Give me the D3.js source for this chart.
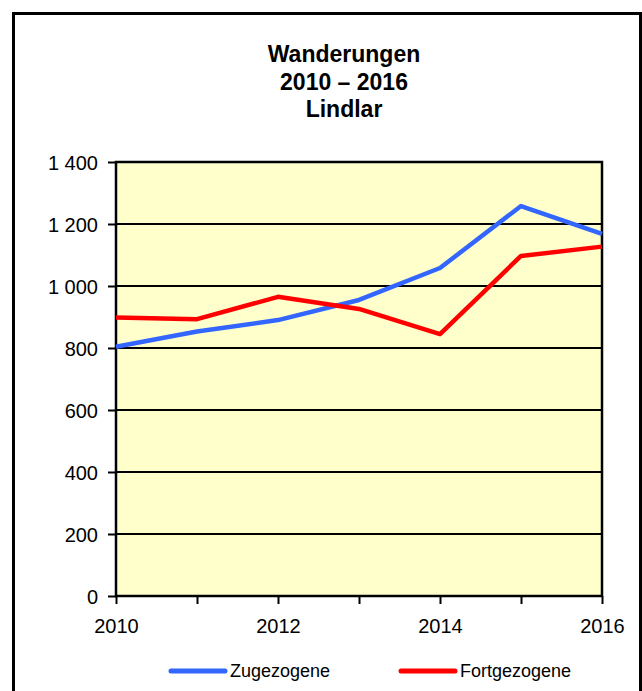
<!DOCTYPE html>
<html>
<head>
<meta charset="utf-8">
<script src="https://cdn.jsdelivr.net/npm/d3@7"></script>
<style>
  body { margin: 0; background: #fff; }
  svg { display: block; font-family: "Liberation Sans", Arial, sans-serif; }
</style>
</head>
<body>
<div id="chart"></div>
<script>
// chart data
var years = [2010, 2011, 2012, 2013, 2014, 2015, 2016];
var zugezogene = [804, 853, 890, 955, 1058, 1258, 1168];
var fortgezogene = [898, 893, 965, 926, 845, 1097, 1127];
var series_names = ['Zugezogene', 'Fortgezogene'];
var series_colors = ['#3366ff', '#ff0000'];
var title_lines = ['Wanderungen', '2010 \u2013 2016', 'Lindlar'];
var y_ticks = [0, 200, 400, 600, 800, 1000, 1200, 1400];
var x_label_years = [2010, 2012, 2014, 2016];

var width = 642, height = 691;
var plot = {left: 116, right: 602, top: 162, bottom: 596};

var svg = d3.select('#chart')
  .append('svg')
  .attr('width', width)
  .attr('height', height);

// outer frame
svg.append('rect')
  .attr('x', 13.5)
  .attr('y', 13.5)
  .attr('width', 627)
  .attr('height', 700)
  .attr('fill', '#fff')
  .attr('stroke', '#000')
  .attr('stroke-width', 3);

// title
svg.append('g')
  .attr('class', 'title')
  .selectAll('text')
  .data(title_lines)
  .enter()
  .append('text')
  .attr('x', 344)
  .attr('y', function(d, i) { return 62 + i * 27.5; })
  .attr('text-anchor', 'middle')
  .style('font-size', '23px')
  .style('font-weight', 'bold')
  .text(function(d) { return d; });

var x_scale = d3.scaleLinear()
  .domain([2010, 2016])
  .range([plot.left, plot.right]);

var y_scale = d3.scaleLinear()
  .domain([0, 1400])
  .range([plot.bottom, plot.top]);

// plot background
svg.append('rect')
  .attr('x', plot.left)
  .attr('y', plot.top)
  .attr('width', plot.right - plot.left)
  .attr('height', plot.bottom - plot.top)
  .attr('fill', '#ffffcc');

// horizontal grid lines
svg.append('g')
  .attr('class', 'grid')
  .selectAll('line')
  .data(y_ticks)
  .enter()
  .append('line')
  .attr('x1', plot.left)
  .attr('x2', plot.right)
  .attr('y1', function(d) { return y_scale(d); })
  .attr('y2', function(d) { return y_scale(d); })
  .attr('stroke', '#000')
  .attr('stroke-width', 2);

// y axis
var y_axis = svg.append('g')
  .attr('class', 'y_axis')
  .attr('transform', 'translate(' + plot.left + ',0)')
  .call(d3.axisLeft(y_scale)
    .tickValues(y_ticks)
    .tickSize(8)
    .tickPadding(10)
    .tickFormat(function(d) {
      return d3.format(',')(d).replace(/,/g, ' ');
    }));

y_axis.select('.domain').remove();
y_axis.selectAll('line').attr('stroke', '#000').attr('stroke-width', 2);
y_axis.selectAll('text')
  .attr('dy', '0.38em')
  .style('font-size', '20px')
  .attr('fill', '#000');

// x axis
var x_axis = svg.append('g')
  .attr('class', 'x_axis')
  .attr('transform', 'translate(0,' + plot.bottom + ')')
  .call(d3.axisBottom(x_scale)
    .tickValues(years)
    .tickSize(8)
    .tickPadding(15)
    .tickFormat(function(d) {
      return x_label_years.indexOf(d) > -1 ? String(d) : '';
    }));

x_axis.select('.domain').remove();
x_axis.selectAll('line').attr('stroke', '#000').attr('stroke-width', 2);
x_axis.selectAll('text')
  .style('font-size', '20px')
  .attr('fill', '#000');

// plot border
svg.append('rect')
  .attr('x', plot.left)
  .attr('y', plot.top)
  .attr('width', plot.right - plot.left)
  .attr('height', plot.bottom - plot.top)
  .attr('fill', 'none')
  .attr('stroke', '#000')
  .attr('stroke-width', 2.5);

// series lines
var line = d3.line()
  .x(function(d, i) { return x_scale(years[i]); })
  .y(function(d) { return y_scale(d); });

svg.append('g')
  .attr('class', 'series')
  .selectAll('path')
  .data([zugezogene, fortgezogene])
  .enter()
  .append('path')
  .attr('d', line)
  .attr('fill', 'none')
  .attr('stroke', function(d, i) { return series_colors[i]; })
  .attr('stroke-width', 4.5)
  .attr('stroke-linejoin', 'round');

// legend
var legend_x = [171, 401];
var legend = svg.append('g')
  .attr('class', 'legend')
  .selectAll('g')
  .data(series_names)
  .enter()
  .append('g')
  .attr('transform', function(d, i) {
    return 'translate(' + legend_x[i] + ',671)';
  });

legend.append('line')
  .attr('x1', 0)
  .attr('x2', 54)
  .attr('stroke', function(d, i) { return series_colors[i]; })
  .attr('stroke-width', 5)
  .attr('stroke-linecap', 'round');

legend.append('text')
  .attr('x', 59)
  .attr('dy', '0.36em')
  .style('font-size', '18px')
  .text(function(d) { return d; });
</script>
</body>
</html>
